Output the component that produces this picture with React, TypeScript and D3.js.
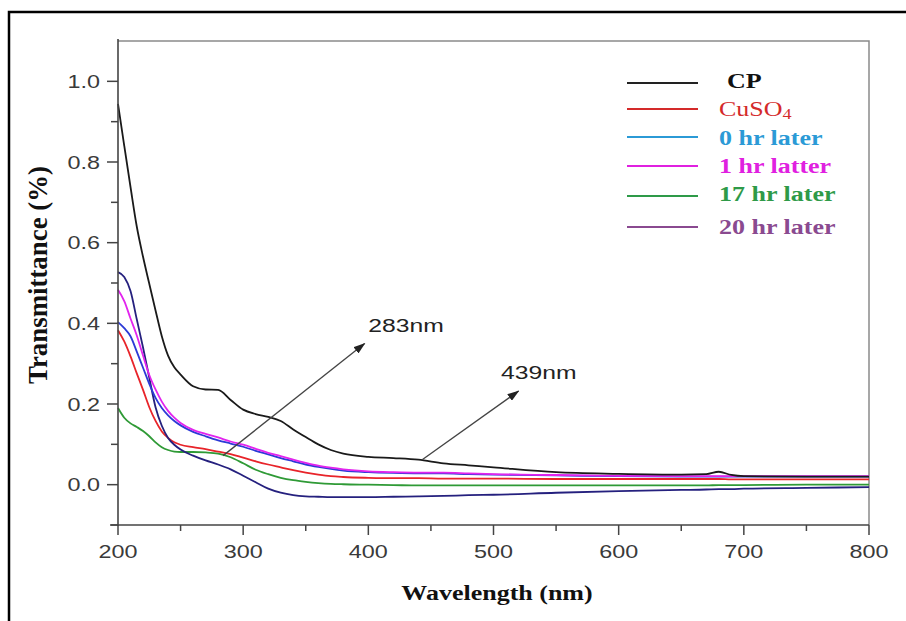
import React from "react";
import * as d3 from "d3";

const wavelengths = [200,205,210,215,220,225,230,235,240,245,250,260,270,280,290,300,310,320,330,340,350,360,370,380,400,420,440,460,480,500,550,600,650,670,680,690,700,750,800];

const cpValues = [0.944,0.84,0.738,0.64,0.565,0.498,0.432,0.368,0.32,0.291,0.273,0.244,0.236,0.235,0.21,0.186,0.175,0.168,0.158,0.137,0.118,0.1,0.086,0.077,0.069,0.066,0.062,0.053,0.048,0.043,0.031,0.027,0.025,0.026,0.032,0.024,0.021,0.02,0.02];
const cuso4Values = [0.383,0.355,0.318,0.276,0.235,0.192,0.158,0.132,0.116,0.105,0.099,0.093,0.088,0.082,0.076,0.067,0.058,0.05,0.043,0.036,0.03,0.025,0.021,0.019,0.017,0.016,0.016,0.015,0.015,0.015,0.014,0.014,0.014,0.014,0.014,0.013,0.013,0.013,0.013];
const hr0Values = [0.403,0.388,0.368,0.33,0.29,0.25,0.215,0.19,0.172,0.158,0.147,0.131,0.12,0.11,0.102,0.094,0.084,0.075,0.066,0.058,0.05,0.044,0.039,0.035,0.031,0.029,0.028,0.028,0.026,0.025,0.023,0.021,0.02,0.02,0.02,0.02,0.02,0.02,0.02];
const hr1Values = [0.483,0.455,0.412,0.37,0.32,0.272,0.236,0.206,0.183,0.166,0.153,0.136,0.126,0.117,0.107,0.099,0.089,0.079,0.071,0.062,0.054,0.047,0.042,0.038,0.033,0.031,0.03,0.03,0.028,0.026,0.024,0.022,0.021,0.021,0.021,0.021,0.021,0.021,0.021];
const hr17Values = [0.19,0.166,0.152,0.143,0.133,0.12,0.105,0.093,0.086,0.082,0.081,0.081,0.08,0.077,0.068,0.053,0.037,0.026,0.017,0.011,0.007,0.004,0.002,0.001,0.0,-0.001,-0.002,-0.002,-0.002,-0.002,-0.002,-0.002,-0.002,-0.002,-0.001,-0.001,-0.001,0.0,0.0];
const hr20Values = [0.527,0.515,0.48,0.41,0.34,0.265,0.192,0.146,0.116,0.099,0.087,0.072,0.06,0.05,0.038,0.022,0.006,-0.01,-0.02,-0.026,-0.029,-0.03,-0.031,-0.031,-0.031,-0.03,-0.029,-0.028,-0.026,-0.025,-0.02,-0.016,-0.013,-0.012,-0.011,-0.011,-0.01,-0.008,-0.006];

const seriesNames = ["CP", "CuSO4", "0 hr later", "1 hr latter", "17 hr later", "20 hr later"];
const seriesValues = [cpValues, cuso4Values, hr0Values, hr1Values, hr17Values, hr20Values];
const lineColors = ["#1a1a1a", "#e8242a", "#2c3ad6", "#e224ee", "#2f9a36", "#25207e"];
const legendColors = ["#111111", "#d42a2a", "#2b9ad6", "#e020e0", "#2e9a48", "#8a4a90"];
// draw order (back to front)
const drawOrder = [4, 1, 5, 2, 3, 0];

const xTicks = [200, 300, 400, 500, 600, 700, 800];
const xMinorTicks = [250, 350, 450, 550, 650, 750];
const yTicks = [0.0, 0.2, 0.4, 0.6, 0.8, 1.0];
const yMinorTicks = [-0.1, 0.1, 0.3, 0.5, 0.7, 0.9];

const annotations = [
  { label: "283nm", from: [284, 0.072], to: [397, 0.35], text: [400, 0.378] },
  { label: "439nm", from: [443, 0.062], to: [520, 0.232], text: [506, 0.262] },
];

const SX = 1.3;
const SANS = "'Liberation Sans', Arial, sans-serif";
const SERIF = "'Liberation Serif', 'Times New Roman', serif";

export default function App() {
  const W = 906, H = 621;
  const left = 118, right = 869, top = 41, bottom = 525;
  const x = d3.scaleLinear().domain([200, 800]).range([left, right]);
  const y = d3.scaleLinear().domain([-0.1, 1.1]).range([bottom, top]);
  const line = d3
    .line<[number, number]>()
    .x((d) => x(d[0]))
    .y((d) => y(d[1]))
    .curve(d3.curveMonotoneX);

  const legendX1 = 627, legendX2 = 698, legendTextX = 719;
  const legendLineY = [83, 109, 137, 166, 196, 227];
  const legendTextY = [88, 116, 145, 173, 201, 234];

  return (
    <svg
      width={W}
      height={H}
      style={{ position: "absolute", left: 0, top: 0, background: "#fff" }}
    >
      <defs>
        <marker id="arr" viewBox="0 0 12 8" refX="11" refY="4" markerWidth="12" markerHeight="8" markerUnits="userSpaceOnUse" orient="auto">
          <path d="M0,0 L12,4 L0,8 z" fill="#222" />
        </marker>
      </defs>
      <rect x={0} y={0} width={W} height={H} fill="#fff" />
      {/* outer frame */}
      <path d={`M9,${H} V12 H${W}`} fill="none" stroke="#000" strokeWidth={2.5} />

      {/* plot frame top/right */}
      <path d={`M${left},${top} H${right} V${bottom}`} fill="none" stroke="#8a8a8a" strokeWidth={1.5} />

      {/* series */}
      {drawOrder.map((i) => (
        <path
          key={seriesNames[i]}
          d={line(wavelengths.map((w, k) => [w, seriesValues[i][k]] as [number, number])) || ""}
          fill="none"
          stroke={lineColors[i]}
          strokeWidth={1.8}
        />
      ))}

      {/* axes */}
      <line x1={left} x2={left} y1={top - 2} y2={bottom + 1} stroke="#444" strokeWidth={1.6} />
      <line x1={left - 8} x2={right} y1={bottom} y2={bottom} stroke="#444" strokeWidth={1.6} />
      {yTicks.map((t) => (
        <g key={"yt" + t}>
          <line x1={left - 11} x2={left} y1={y(t)} y2={y(t)} stroke="#444" strokeWidth={1.5} />
          <text transform={`translate(${left - 18},${y(t) + 6.5}) scale(${SX},1)`} textAnchor="end" fontFamily={SANS} fontSize={18} fill="#3a3a3a">
            {t.toFixed(1)}
          </text>
        </g>
      ))}
      {yMinorTicks.map((t) => (
        <line key={"ym" + t} x1={left - 7} x2={left} y1={y(t)} y2={y(t)} stroke="#444" strokeWidth={1.5} />
      ))}
      {xTicks.map((t) => (
        <g key={"xt" + t}>
          <line x1={x(t)} x2={x(t)} y1={bottom} y2={bottom + 10} stroke="#444" strokeWidth={1.5} />
          <text transform={`translate(${x(t)},${bottom + 33}) scale(${SX},1)`} textAnchor="middle" fontFamily={SANS} fontSize={18} fill="#3a3a3a">
            {t}
          </text>
        </g>
      ))}
      {xMinorTicks.map((t) => (
        <line key={"xm" + t} x1={x(t)} x2={x(t)} y1={bottom} y2={bottom + 6} stroke="#444" strokeWidth={1.5} />
      ))}

      {/* axis titles */}
      <text transform={`translate(497,600) scale(${SX},1)`} textAnchor="middle" fontFamily={SERIF} fontWeight="bold" fontSize={20} fill="#111">
        Wavelength (nm)
      </text>
      <text
        transform={`translate(47,275) scale(${SX},1) rotate(-90)`}
        textAnchor="middle"
        fontFamily={SERIF}
        fontWeight="bold"
        fontSize={21}
        fill="#111"
        textLength={218}
        lengthAdjust="spacingAndGlyphs"
      >
        Transmittance (%)
      </text>

      {/* annotations */}
      {annotations.map((a) => (
        <g key={a.label}>
          <line
            x1={x(a.from[0])}
            y1={y(a.from[1])}
            x2={x(a.to[0])}
            y2={y(a.to[1])}
            stroke="#444"
            strokeWidth={1.3}
            markerEnd="url(#arr)"
          />
          <text transform={`translate(${x(a.text[0])},${y(a.text[1])}) scale(${SX},1)`} fontFamily={SANS} fontSize={19} fill="#222">
            {a.label}
          </text>
        </g>
      ))}

      {/* legend */}
      {seriesNames.map((n, i) => (
        <g key={"lg" + n}>
          <line x1={legendX1} x2={legendX2} y1={legendLineY[i]} y2={legendLineY[i]} stroke={i === 0 ? "#222" : legendColors[i]} strokeWidth={2} />
          <text
            transform={`translate(${i === 0 ? legendTextX + 8 : legendTextX},${legendTextY[i]}) scale(${SX},1)`}
            fontFamily={SERIF}
            fontWeight={i === 1 ? "normal" : "bold"}
            fontSize={20}
            fill={legendColors[i]}
          >
            {n === "CuSO4" ? (
              <>
                CuSO<tspan fontSize={14} dy={3}>4</tspan>
              </>
            ) : (
              n
            )}
          </text>
        </g>
      ))}
    </svg>
  );
}
